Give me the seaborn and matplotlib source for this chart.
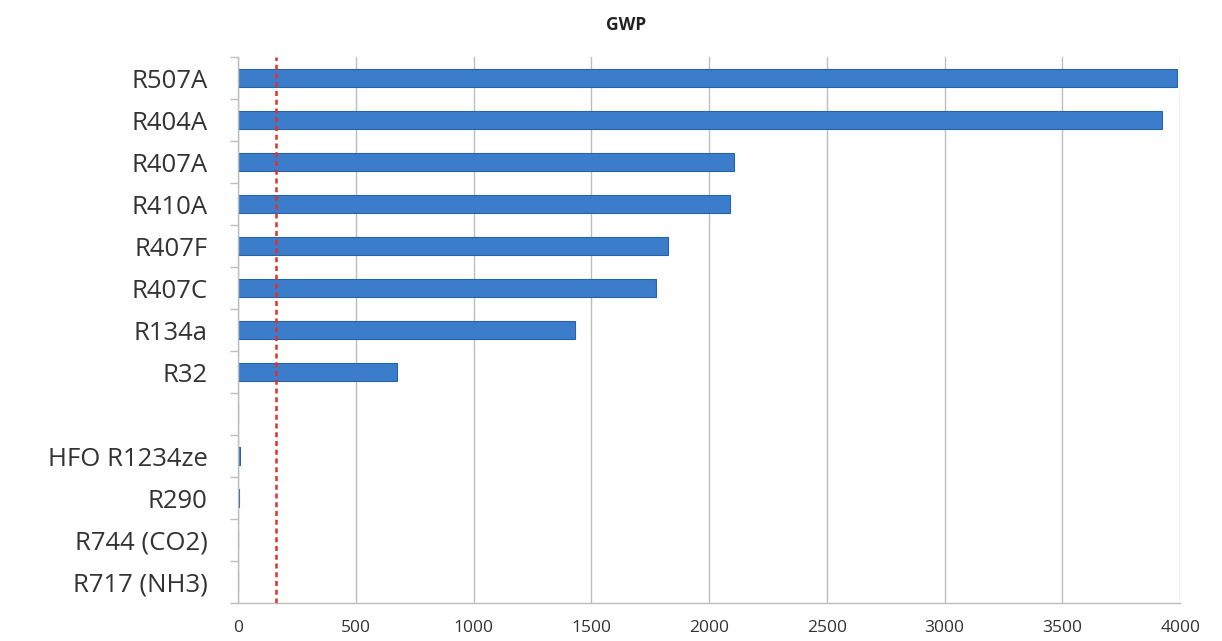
import matplotlib
matplotlib.use("Agg")
import matplotlib.pyplot as plt
from matplotlib.ticker import FixedLocator
import seaborn as sns
import pandas as pd
import numpy as np

# Refrigerants and their global warming potential (GWP)
refrigerants = ["R507A", "R404A", "R407A", "R410A", "R407F", "R407C", "R134a", "R32",
                " ", "HFO R1234ze", "R290", "R744 (CO2)", "R717 (NH3)"]
gwp = [3985, 3922, 2107, 2088, 1825, 1774, 1430, 675,
       0, 7, 3, 1, 0]
threshold = 160
x_ticks = [0, 500, 1000, 1500, 2000, 2500, 3000, 3500, 4000]

df = pd.DataFrame({"refrigerant": refrigerants, "gwp": gwp})

sns.set_theme(style="white")
plt.rcParams["font.family"] = ["Open Sans", "DejaVu Sans"]

fig = plt.figure(figsize=(12.22, 6.41), dpi=100)
ax = fig.add_axes([0.1948, 0.059, 0.771, 0.852])

sns.barplot(data=df, x="gwp", y="refrigerant", order=refrigerants, orient="h",
            color="#3b7dcb", width=0.43, edgecolor="#2a62a6", linewidth=0.8,
            saturation=1, ax=ax)

ax.set_xlim(0, 4000)
ax.set_ylim(len(refrigerants) - 0.5, -0.5)
ax.set_xticks(x_ticks)
ax.set_xticklabels([str(t) for t in x_ticks], fontsize=12.5, color="#333333")
ax.xaxis.grid(True, color="#bdbdbd", linewidth=1)
ax.yaxis.grid(False)
ax.set_axisbelow(True)

# Category labels at row centres, tick marks on row boundaries
ax.set_yticks(range(len(refrigerants)))
ax.set_yticklabels(refrigerants, fontsize=18.5, color="#333333")
ax.tick_params(axis="y", which="major", length=0, pad=22)
ax.yaxis.set_minor_locator(FixedLocator(np.arange(-0.5, len(refrigerants), 1.0)))
ax.tick_params(axis="y", which="minor", length=6, width=1, color="#bdbdbd", left=True)
ax.tick_params(axis="x", which="major", length=0, pad=12)

ax.axvline(threshold, color="#e0302a", linestyle=(0, (2, 1.5)), linewidth=1.8, zorder=3)

for side in ("top", "right"):
    ax.spines[side].set_visible(False)
for side in ("left", "bottom"):
    ax.spines[side].set_color("#bdbdbd")
    ax.spines[side].set_linewidth(1)

ax.set_xlabel("")
ax.set_ylabel("")
fig.text(0.512, 0.961, "GWP", ha="center", va="center", fontsize=12.5, fontweight="bold",
         color="#222222")

fig.savefig("out.png", dpi=100, facecolor="white")
